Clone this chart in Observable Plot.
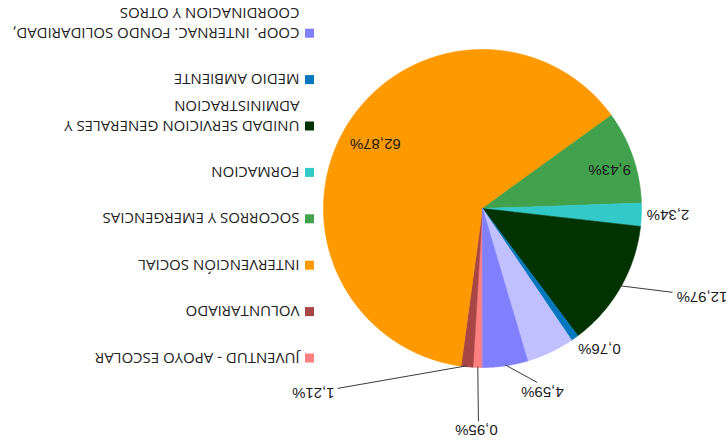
<!DOCTYPE html>
<html>
<head>
<meta charset="utf-8">
<script src="https://cdn.jsdelivr.net/npm/d3@7"></script>
<script src="https://cdn.jsdelivr.net/npm/@observablehq/plot@0.6"></script>
<style>
  html, body { margin: 0; padding: 0; background: #fff; overflow: hidden; }
  #chart { width: 726px; height: 447px; transform: rotate(180deg); transform-origin: 50% 50%; }
</style>
</head>
<body>
<div id="chart"></div>
<script>
// ---- data (legend order) ----
const categories = [
  "JUVENTUD - APOYO ESCOLAR",
  "VOLUNTARIADO",
  "INTERVENCIÓN SOCIAL",
  "SOCORROS Y EMERGENCIAS",
  "FORMACION",
  "UNIDAD SERVICION GENERALES Y ADMINISTRACION",
  "MEDIO AMBIENTE",
  "COOP. INTERNAC. FONDO SOLIDARIDAD, COORDINACION Y OTROS",
  "(otra partida)"
];
const values = [0.95, 1.21, 62.87, 9.43, 2.34, 12.97, 0.76, 4.59, 4.88];
const showLabel = [true, true, true, true, true, true, true, true, false];
const showInLegend = [true, true, true, true, true, true, true, true, false];
const colors = ["#ff8080", "#a84545", "#ff9900", "#41a14d", "#33c9c9", "#003300", "#0277bd", "#8080ff", "#c0c0ff"];
// order of slices around the pie (clockwise from 12 o'clock)
const sliceOrder = [0, 1, 2, 3, 4, 5, 6, 8, 7];

// ---- layout ----
const W = 726, H = 447, cx = 243, cy = 238, R = 159;
const rad = d => d * Math.PI / 180;
const polar = (deg, r) => [cx + r * Math.sin(rad(deg)), cy - r * Math.cos(rad(deg))];
// label placement per category index
const labelLayout = {
  0: {kind: "leader", end: [1.1, 213], off: [2, -8], anchor: "middle"},
  1: {kind: "leader", end: [38.85, 231], off: [3, -4], anchor: "start"},
  2: {kind: "inside", r: 125},
  3: {kind: "inside", angle: 253, r: 133},
  4: {kind: "free", angle: 271.9, r: 185.6},
  5: {kind: "leader", start: 299.3, end: [293.8, 207.7], off: [-4, -4], anchor: "end"},
  6: {kind: "free", angle: 320.3, r: 183},
  7: {kind: "leader", end: [342.5, 182.5], off: [-5, -9], anchor: "middle"}
};
const fmt = v => d3.format(".2f")(v).replace(".", ",") + "%";

// ---- pie geometry ----
const slices = sliceOrder.map(i => ({i, name: categories[i], value: values[i]}));
const arcs = d3.pie().sort(null).value(d => d.value)(slices);
const polyPts = [];
arcs.forEach(a => {
  const n = Math.max(2, Math.ceil((a.endAngle - a.startAngle) / rad(0.5)));
  polyPts.push({key: a.data.name, x: cx, y: cy});
  for (let k = 0; k <= n; k++) {
    const t = a.startAngle + (a.endAngle - a.startAngle) * k / n;
    polyPts.push({key: a.data.name, x: cx + R * Math.sin(t), y: cy - R * Math.cos(t)});
  }
});

// ---- labels ----
const labels = {middle: [], start: [], end: []};
const leaders = [];
arcs.forEach(a => {
  const i = a.data.i;
  if (!showLabel[i]) return;
  const L = labelLayout[i];
  const mid = (a.startAngle + a.endAngle) / 2 * 180 / Math.PI;
  const text = fmt(values[i]);
  if (L.kind === "inside" || L.kind === "free") {
    const [x, y] = polar(L.angle ?? mid, L.r);
    labels.middle.push({x, y, text});
  } else {
    const [x1, y1] = polar(L.start ?? mid, R - 1);
    const [x2, y2] = polar(L.end[0], L.end[1]);
    leaders.push({x1, y1, x2, y2});
    labels[L.anchor].push({x: x2 + L.off[0], y: y2 + L.off[1], text});
  }
});

// ---- legend ----
const wrap = (s, max) => {
  const words = s.split(" "), lines = [];
  let cur = "";
  for (const w of words) {
    if (cur && (cur + " " + w).length > max) { lines.push(cur); cur = w; }
    else cur = cur ? cur + " " + w : w;
  }
  if (cur) lines.push(cur);
  return lines;
};
const legendX = 412, legendY0 = 89, legendStep = 46.4, lineStep = 19.5, sq = 9;
const legendSquares = [], legendLines = [];
categories.forEach((c, i) => {
  if (!showInLegend[i]) return;
  const yc = legendY0 + i * legendStep;
  legendSquares.push({name: c, x1: legendX, x2: legendX + sq, y1: yc - sq / 2, y2: yc + sq / 2});
  wrap(c, 34).forEach((t, k) => legendLines.push({x: legendX + sq + 5, y: yc + k * lineStep, text: t}));
});

const numFont = {fontFamily: "Liberation Sans, Arial, sans-serif", fontSize: 15, fill: "#1a1a1a"};

const chart = Plot.plot({
  width: W,
  height: H,
  margin: 0,
  x: {domain: [0, W], range: [0, W], axis: null},
  y: {domain: [0, H], range: [0, H], axis: null},
  color: {domain: categories, range: colors},
  style: {background: "white", overflow: "hidden"},
  marks: [
    Plot.line(polyPts, {x: "x", y: "y", z: "key", fill: "key", stroke: "key", strokeWidth: 0.6, curve: "linear-closed"}),
    Plot.link(leaders, {x1: "x1", y1: "y1", x2: "x2", y2: "y2", stroke: "#3a3a3a", strokeWidth: 1}),
    Plot.text(labels.middle, {x: "x", y: "y", text: "text", textAnchor: "middle", lineAnchor: "middle", ...numFont}),
    Plot.text(labels.start, {x: "x", y: "y", text: "text", textAnchor: "start", lineAnchor: "middle", ...numFont}),
    Plot.text(labels.end, {x: "x", y: "y", text: "text", textAnchor: "end", lineAnchor: "middle", ...numFont}),
    Plot.rect(legendSquares, {x1: "x1", x2: "x2", y1: "y1", y2: "y2", fill: "name"}),
    Plot.text(legendLines, {x: "x", y: "y", text: "text", textAnchor: "start", lineAnchor: "middle",
      fontFamily: "Open Sans, sans-serif", fontSize: 15, fill: "#222"})
  ]
});
document.getElementById("chart").appendChild(chart);
</script>
</body>
</html>
